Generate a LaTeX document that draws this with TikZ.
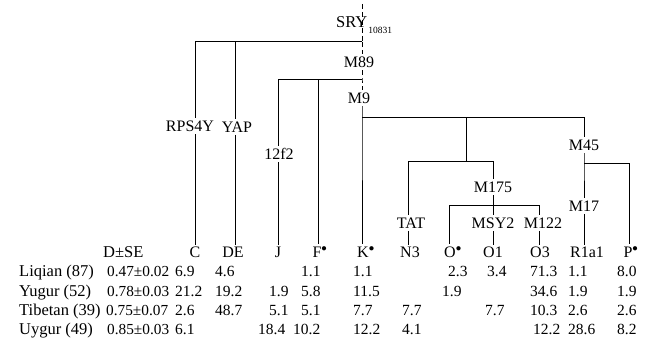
\documentclass[tikz,border=0pt]{standalone}
\usepackage{fontspec}
\setmainfont{Liberation Serif}
\tikzset{
  br/.style={line width=1pt},
  trunk/.style={line width=1pt,dash pattern=on 5pt off 3pt},
  mk/.style={inner sep=2.5pt,font=\fontsize{16}{19}\selectfont},
  hg/.style={inner sep=2.5pt,anchor=base,font=\fontsize{16}{19}\selectfont},
  val/.style={inner sep=0pt,anchor=base west},
  pop/.style={val,font=\fontsize{16.5}{19}\selectfont},
  dsv/.style={val,font=\fontsize{15.3}{18}\selectfont},
}

\begin{document}
\begin{tikzpicture}[x=1pt,y=-1pt,font=\fontsize{15.5}{18}\selectfont]
\useasboundingbox (0,0) rectangle (662,352);

%\draw[red] (0,0) rectangle (662,352);

% markers on the tree
\node[inner sep=0pt,anchor=base west,font=\fontsize{16.5}{19}\selectfont] (sry) at (336,28) {SRY\kern1pt\raisebox{-6pt}{\fontsize{9.5}{10}\selectfont 10831}};
\node[mk] (m89) at (359,62) {M89};
\node[mk] (m9) at (359,98) {M9};
\node[mk] (rps) at (190,126) {RPS4Y};
\node[mk] (yap) at (237,127) {YAP};
\node[mk] (f12) at (279,154) {12f2};
\node[mk] (m45) at (584,145) {M45};
\node[mk] (m175) at (493,187) {M175};
\node[mk] (m17) at (584,206) {M17};
\node[mk] (tat) at (411,223) {TAT};
\node[mk] (msy) at (493,223) {MSY2};
\node[mk] (m122) at (543,223) {M122};

% haplogroups
\node[hg] (hC) at (195,258) {C};
\node[hg] (hDE) at (233,258) {DE};
\node[hg] (hJ) at (278,258) {J};
\node[hg] (hF) at (320,258) {F$^{\bullet}$};
\node[hg] (hK) at (366,258) {K$^{\bullet}$};
\node[hg] (hN) at (410,258) {N3};
\node[hg] (hO) at (453,258) {O$^{\bullet}$};
\node[hg] (hO1) at (493,258) {O1};
\node[hg] (hO3) at (540,258) {O3};
\node[hg] (hR) at (587,258) {R1a1};
\node[hg] (hP) at (631,258) {P$^{\bullet}$};

% junctions
\coordinate (top) at (362,4);
\coordinate (r0) at (362,42);
\coordinate (c0) at (195,42);
\coordinate (de0) at (235,42);
\coordinate (r1) at (362,80);
\coordinate (j0) at (278,80);
\coordinate (f0) at (318,80);
\coordinate (r2) at (362,118);
\coordinate (mid0) at (466,118);
\coordinate (ma) at (584,118);
\coordinate (mid1) at (466,162);
\coordinate (tat0) at (408,162);
\coordinate (ms0) at (493,162);
\coordinate (ms1) at (493,206);
\coordinate (o0) at (449,206);
\coordinate (o3a) at (539,206);
\coordinate (mb) at (584,164);
\coordinate (p0) at (629,164);

\draw[trunk] (top) -- (r0);
\draw[trunk] (r0) -- (r0 |- m89.north);
\draw[trunk] (r0 |- m89.south) -- (r1) -- (r1 |- m9.north);
\draw[br] (r1 |- m9.south) -- (r2) -- (r2 |- hK.north);

\draw[br] (r0) -- (c0) -- (c0 |- rps.north);
\draw[br] (c0 |- rps.south) -- (c0 |- hC.north);
\draw[br] (de0) -- (de0 |- yap.north);
\draw[br] (de0 |- yap.south) -- (de0 |- hDE.north);

\draw[br] (r1) -- (j0) -- (j0 |- f12.north);
\draw[br] (j0 |- f12.south) -- (j0 |- hJ.north);
\draw[br] (f0) -- (f0 |- hF.north);

\draw[br] (r2) -- (ma) -- (ma |- m45.north);
\draw[br] (mid0) -- (mid1);
\draw[br] (tat0) -- (ms0) -- (ms0 |- m175.north);
\draw[br] (tat0) -- (tat0 |- tat.north);
\draw[br] (tat0 |- tat.south) -- (tat0 |- hN.north);
\draw[br] (ms0 |- m175.south) -- (ms1);
\draw[br] (o0) -- (o3a) -- (o3a |- m122.north);
\draw[br] (o0) -- (o0 |- hO.north);
\draw[br] (ms1) -- (ms1 |- msy.north);
\draw[br] (ms1 |- msy.south) -- (ms1 |- hO1.north);
\draw[br] (o3a |- m122.south) -- (o3a |- hO3.north);

\draw[br] (ma |- m45.south) -- (mb) -- (mb |- m17.north);
\draw[br] (mb |- m17.south) -- (mb |- hR.north);
\draw[br] (mb) -- (p0) -- (p0 |- hP.north);

% table
\node[pop] (dse) at (103,258) {D±SE};

\node[pop] (rl1) at (19,277) {Liqian (87)};
\node[dsv] (d1) at (107,277) {0.47±0.02};
\node[val] (c1) at (175,277) {6.9};
\node[val] (de1) at (215,277) {4.6};
\node[val] (f1) at (301,277) {1.1};
\node[val] (k1) at (353,277) {1.1};
\node[val] (o1) at (448,277) {2.3};
\node[val] (oa1) at (487,277) {3.4};
\node[val] (ob1) at (530,277) {71.3};
\node[val] (r1v) at (568,277) {1.1};
\node[val] (p1) at (617,277) {8.0};

\node[pop] (rl2) at (19,297) {Yugur (52)};
\node[dsv] (d2) at (107,297) {0.78±0.03};
\node[val] (c2) at (175,297) {21.2};
\node[val] (de2) at (215,297) {19.2};
\node[val] (j2) at (269,297) {1.9};
\node[val] (f2) at (301,297) {5.8};
\node[val] (k2) at (353,297) {11.5};
\node[val] (o2) at (442,297) {1.9};
\node[val] (ob2) at (530,297) {34.6};
\node[val] (r2v) at (568,297) {1.9};
\node[val] (p2) at (617,297) {1.9};

\node[pop] (rl3) at (19,316) {Tibetan (39)};
\node[dsv] (d3) at (106,316) {0.75±0.07};
\node[val] (c3) at (175,316) {2.6};
\node[val] (de3) at (215,316) {48.7};
\node[val] (j3) at (269,316) {5.1};
\node[val] (f3) at (301,316) {5.1};
\node[val] (k3) at (353,316) {7.7};
\node[val] (n3) at (402,316) {7.7};
\node[val] (oa3) at (485,316) {7.7};
\node[val] (ob3) at (530,316) {10.3};
\node[val] (r3v) at (568,316) {2.6};
\node[val] (p3) at (617,316) {2.6};

\node[pop] (rl4) at (19,335) {Uygur (49)};
\node[dsv] (d4) at (107,335) {0.85±0.03};
\node[val] (c4) at (175,335) {6.1};
\node[val] (j4) at (258,335) {18.4};
\node[val] (f4) at (293,335) {10.2};
\node[val] (k4) at (353,335) {12.2};
\node[val] (n4) at (402,335) {4.1};
\node[val] (ob4) at (533,335) {12.2};
\node[val] (r4v) at (568,335) {28.6};
\node[val] (p4) at (617,335) {8.2};

\end{tikzpicture}
\end{document}
